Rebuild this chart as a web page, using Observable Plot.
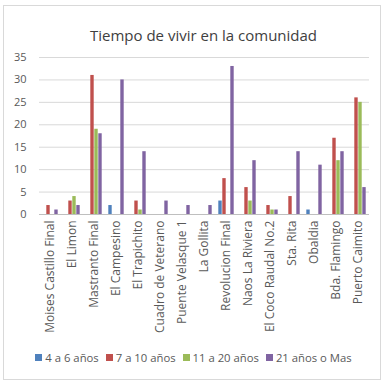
<!DOCTYPE html>
<html>
<head>
<meta charset="utf-8">
<script src="https://cdn.jsdelivr.net/npm/d3@7"></script>
<script src="https://cdn.jsdelivr.net/npm/@observablehq/plot@0.6"></script>
<style>
  body { margin: 0; background: #fff; font-family: "Open Sans", sans-serif; }
  #wrap { position: relative; width: 391px; height: 391px; overflow: hidden; }
  #frame { position: absolute; left: 3px; top: 5px; width: 378px; height: 375px; border: 1px solid #d9d9d9; box-sizing: border-box; }
  #title { position: absolute; left: 0; width: 407px; top: 25px; text-align: center; font-size: 15px; color: #404040; white-space: nowrap; }
  #chart { position: absolute; left: 0; top: 0; }
  #chart g[aria-label="x-axis tick label"] text { font-size: 12px; }
  #legend { position: absolute; left: 0; width: 394px; top: 350px; display: flex; justify-content: center; font-size: 11.3px; color: #595959; white-space: nowrap; }
  #legend span.item { display: inline-flex; align-items: center; margin-right: 7px; }
  #legend span.sw { display: inline-block; width: 7px; height: 7px; margin-right: 3px; }
</style>
</head>
<body>
<div id="wrap">
  <div id="frame"></div>
  <div id="title">Tiempo de vivir en la comunidad</div>
  <div id="chart"></div>
  <div id="legend"></div>
</div>
<script>
const categories = ["Moises Castillo Final", "El Limon", "Mastranto Final", "El Campesino", "El Trapichito", "Cuadro de Veterano", "Puente Velasque 1", "La Gollita", "Revolucion Final", "Naos La Riviera", "El Coco Raudal No.2", "Sta. Rita", "Obaldia", "Bda. Flamingo", "Puerto Caimito"];
const seriesNames = ["4 a 6 años", "7 a 10 años", "11 a 20 años", "21 años o Mas"];
const s4a6   = [0, 0, 0, 2, 0, 0, 0, 0, 3, 0, 0, 0, 1, 0, 0];
const s7a10  = [2, 3, 31, 0, 3, 0, 0, 0, 8, 6, 2, 4, 0, 17, 26];
const s11a20 = [0, 4, 19, 0, 1, 0, 0, 0, 0, 3, 1, 0, 0, 12, 25];
const s21mas = [1, 2, 18, 30, 14, 3, 2, 2, 33, 12, 1, 14, 11, 14, 6];
const yTicks = [0, 5, 10, 15, 20, 25, 30, 35];
const colors = ["#4F81BD", "#C0504D", "#9BBB59", "#8064A2"];

const seriesValues = [s4a6, s7a10, s11a20, s21mas];
const rows = seriesValues.map((vals, si) =>
  categories.map((c, i) => ({category: c, series: seriesNames[si], value: vals[i]})).filter(d => d.value > 0)
);

const barMarks = rows.map((data, si) =>
  Plot.barY(data, {
    x: "category", y: "value", fill: colors[si],
    insetLeft: 3 + 4 * si + 0.3, insetRight: 15 - 4 * si + 0.3
  })
);

const chart = Plot.plot({
  width: 391, height: 345,
  marginLeft: 39, marginRight: 22, marginTop: 57, marginBottom: 131,
  style: { fontFamily: "Open Sans, sans-serif", fontSize: "11px", color: "#595959", background: "transparent" },
  x: { domain: categories, padding: 0, label: null, tickSize: 0, tickPadding: 6, tickRotate: -90 },
  y: { domain: [0, 35], ticks: yTicks, label: null, tickSize: 0, tickPadding: 13 },
  marks: [
    Plot.ruleY(yTicks.filter(t => t > 0), { stroke: "#d9d9d9", strokeWidth: 1 }),
    ...barMarks,
    Plot.ruleY([0], { stroke: "#bfbfbf", strokeWidth: 1 })
  ]
});
document.getElementById("chart").appendChild(chart);

const legend = document.getElementById("legend");
seriesNames.forEach((name, i) => {
  const item = document.createElement("span");
  item.className = "item";
  const sw = document.createElement("span");
  sw.className = "sw";
  sw.style.background = colors[i];
  item.appendChild(sw);
  item.appendChild(document.createTextNode(name));
  legend.appendChild(item);
});
</script>
</body>
</html>
